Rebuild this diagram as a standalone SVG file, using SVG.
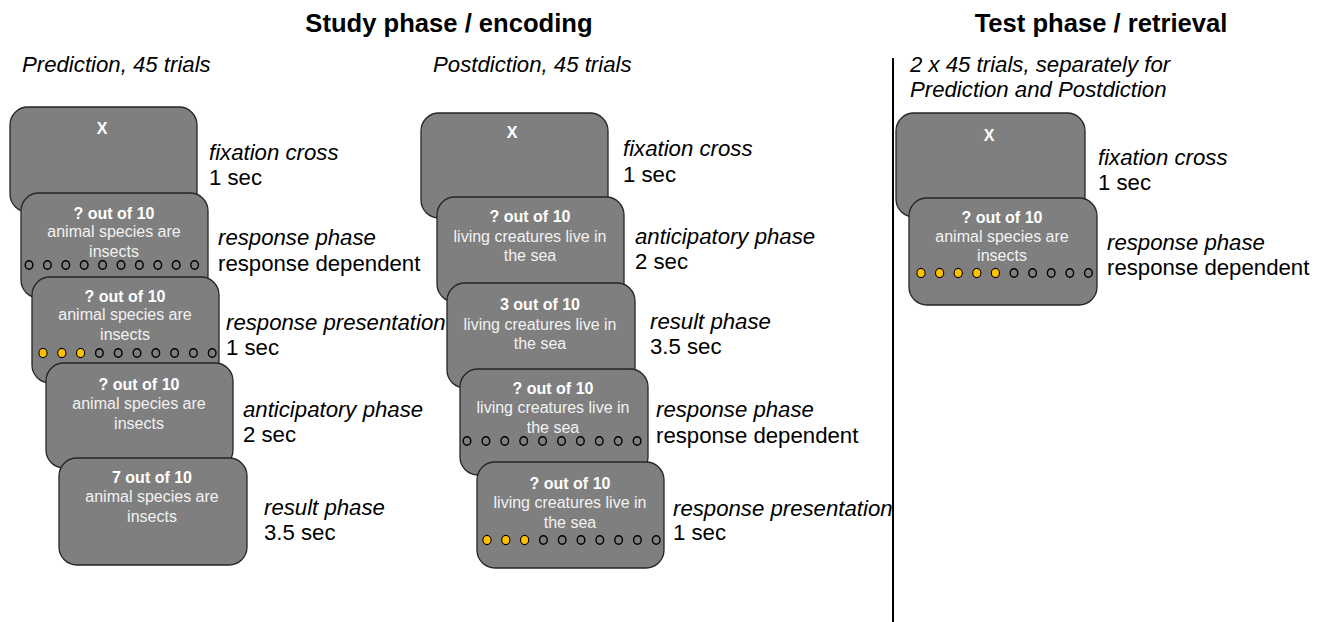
<svg xmlns="http://www.w3.org/2000/svg" width="1325" height="622" viewBox="0 0 1325 622">
<style>
.bg{fill:#ffffff}
.box{fill:#7f7f7f;stroke:#262626;stroke-width:1.3}
.bt{font-family:"Liberation Sans",Arial,sans-serif;font-size:16px;fill:#f2f2f2;text-anchor:middle}
.bb{font-weight:bold;fill:#ffffff}
.lab{font-family:"Liberation Sans",Arial,sans-serif;font-size:22.2px;fill:#000000}
.it{font-style:italic}
.title{font-family:"Liberation Sans",Arial,sans-serif;font-size:25.6px;font-weight:bold;fill:#000000;text-anchor:middle}
.c{fill:none;stroke:#000000;stroke-width:1.4}
.y{fill:#ffc000;stroke:#000000;stroke-width:1.1}
</style>
<defs>
<ellipse id="o" cx="0" cy="0" rx="3.8" ry="4.3" class="c"/>
<ellipse id="f" cx="0" cy="0" rx="4.1" ry="4.6" class="y"/>
</defs>
<rect class="bg" x="0" y="0" width="1325" height="622"/>

<g id="titles">
<text class="title" x="449" y="32">Study phase / encoding</text>
<text class="title" x="1101" y="32">Test phase / retrieval</text>
<text class="lab it" x="22" y="72">Prediction, 45 trials</text>
<text class="lab it" x="433" y="72">Postdiction, 45 trials</text>
<text class="lab it" x="910" y="72">2 x 45 trials, separately for</text>
<text class="lab it" x="910" y="97">Prediction and Postdiction</text>
</g>

<g id="divider">
<line x1="893" y1="58" x2="893" y2="622" stroke="#000000" stroke-width="2"/>
</g>

<!-- Prediction column -->
<g id="pred-fixation">
<rect class="box" x="10" y="107" width="187" height="105" rx="18"/>
<text class="bt bb" x="102" y="134">X</text>
<text class="lab it" x="209" y="160">fixation cross</text>
<text class="lab" x="209" y="185">1 sec</text>
</g>
<g id="pred-response">
<rect class="box" x="21" y="193" width="187" height="105" rx="18"/>
<text class="bt bb" x="114" y="219">? out of 10</text>
<text class="bt" x="114" y="237">animal species are</text>
<text class="bt" x="114" y="257">insects</text>
<use href="#o" x="29" y="265"/><use href="#o" x="47.4" y="265"/><use href="#o" x="65.8" y="265"/><use href="#o" x="84.2" y="265"/><use href="#o" x="102.6" y="265"/><use href="#o" x="121" y="265"/><use href="#o" x="139.4" y="265"/><use href="#o" x="157.8" y="265"/><use href="#o" x="176.2" y="265"/><use href="#o" x="194.6" y="265"/>
<text class="lab it" x="218" y="245">response phase</text>
<text class="lab" x="218" y="271">response dependent</text>
</g>
<g id="pred-presentation">
<rect class="box" x="32" y="277" width="187" height="106" rx="18"/>
<text class="bt bb" x="125" y="302">? out of 10</text>
<text class="bt" x="125" y="320">animal species are</text>
<text class="bt" x="125" y="340">insects</text>
<use href="#f" x="43" y="353"/><use href="#f" x="61.8" y="353"/><use href="#f" x="80.6" y="353"/><use href="#o" x="99.4" y="353"/><use href="#o" x="118.2" y="353"/><use href="#o" x="137" y="353"/><use href="#o" x="155.8" y="353"/><use href="#o" x="174.6" y="353"/><use href="#o" x="193.4" y="353"/><use href="#o" x="212.2" y="353"/>
<text class="lab it" x="226" y="330">response presentation</text>
<text class="lab" x="226" y="355">1 sec</text>
</g>
<g id="pred-anticipatory">
<rect class="box" x="46" y="363" width="187" height="105" rx="18"/>
<text class="bt bb" x="139" y="390">? out of 10</text>
<text class="bt" x="139" y="409">animal species are</text>
<text class="bt" x="139" y="429">insects</text>
<text class="lab it" x="243" y="417">anticipatory phase</text>
<text class="lab" x="243" y="442">2 sec</text>
</g>
<g id="pred-result">
<rect class="box" x="59" y="458" width="188" height="107" rx="18"/>
<text class="bt bb" x="152" y="483">7 out of 10</text>
<text class="bt" x="152" y="502">animal species are</text>
<text class="bt" x="152" y="522">insects</text>
<text class="lab it" x="264" y="515">result phase</text>
<text class="lab" x="264" y="540">3.5 sec</text>
</g>

<!-- Postdiction column -->
<g id="post-fixation">
<rect class="box" x="421" y="113" width="187" height="105" rx="18"/>
<text class="bt bb" x="512" y="138">X</text>
<text class="lab it" x="623" y="156">fixation cross</text>
<text class="lab" x="623" y="182">1 sec</text>
</g>
<g id="post-anticipatory">
<rect class="box" x="437" y="197" width="187" height="105" rx="18"/>
<text class="bt bb" x="530" y="222">? out of 10</text>
<text class="bt" x="530" y="242">living creatures live in</text>
<text class="bt" x="530" y="261">the sea</text>
<text class="lab it" x="635" y="244">anticipatory phase</text>
<text class="lab" x="635" y="269">2 sec</text>
</g>
<g id="post-result">
<rect class="box" x="447" y="283" width="188" height="105" rx="18"/>
<text class="bt bb" x="540" y="310">3 out of 10</text>
<text class="bt" x="540" y="330">living creatures live in</text>
<text class="bt" x="540" y="349">the sea</text>
<text class="lab it" x="650" y="329">result phase</text>
<text class="lab" x="650" y="354">3.5 sec</text>
</g>
<g id="post-response">
<rect class="box" x="460" y="369" width="188" height="106" rx="18"/>
<text class="bt bb" x="553" y="394">? out of 10</text>
<text class="bt" x="553" y="413">living creatures live in</text>
<text class="bt" x="553" y="433">the sea</text>
<use href="#o" x="467" y="441"/><use href="#o" x="485.9" y="441"/><use href="#o" x="504.8" y="441"/><use href="#o" x="523.7" y="441"/><use href="#o" x="542.6" y="441"/><use href="#o" x="561.5" y="441"/><use href="#o" x="580.4" y="441"/><use href="#o" x="599.3" y="441"/><use href="#o" x="618.2" y="441"/><use href="#o" x="637.1" y="441"/>
<text class="lab it" x="656" y="417">response phase</text>
<text class="lab" x="656" y="443">response dependent</text>
</g>
<g id="post-presentation">
<rect class="box" x="477" y="462" width="187" height="106" rx="18"/>
<text class="bt bb" x="570" y="489">? out of 10</text>
<text class="bt" x="570" y="508">living creatures live in</text>
<text class="bt" x="570" y="528">the sea</text>
<use href="#f" x="487" y="540"/><use href="#f" x="505.8" y="540"/><use href="#f" x="524.6" y="540"/><use href="#o" x="543.4" y="540"/><use href="#o" x="562.2" y="540"/><use href="#o" x="581" y="540"/><use href="#o" x="599.8" y="540"/><use href="#o" x="618.6" y="540"/><use href="#o" x="637.4" y="540"/><use href="#o" x="656.2" y="540"/>
<text class="lab it" x="673" y="516">response presentation</text>
<text class="lab" x="673" y="540">1 sec</text>
</g>

<!-- Test column -->
<g id="test-fixation">
<rect class="box" x="896" y="113" width="189" height="104" rx="18"/>
<text class="bt bb" x="989" y="141">X</text>
<text class="lab it" x="1098" y="165">fixation cross</text>
<text class="lab" x="1098" y="190">1 sec</text>
</g>
<g id="test-response">
<rect class="box" x="909" y="198" width="188" height="107" rx="18"/>
<text class="bt bb" x="1002" y="223">? out of 10</text>
<text class="bt" x="1002" y="242">animal species are</text>
<text class="bt" x="1002" y="261">insects</text>
<use href="#f" x="921" y="273"/><use href="#f" x="939.6" y="273"/><use href="#f" x="958.2" y="273"/><use href="#f" x="976.8" y="273"/><use href="#f" x="995.4" y="273"/><use href="#o" x="1014" y="273"/><use href="#o" x="1032.6" y="273"/><use href="#o" x="1051.2" y="273"/><use href="#o" x="1069.8" y="273"/><use href="#o" x="1088.4" y="273"/>
<text class="lab it" x="1107" y="250">response phase</text>
<text class="lab" x="1107" y="275">response dependent</text>
</g>
</svg>
